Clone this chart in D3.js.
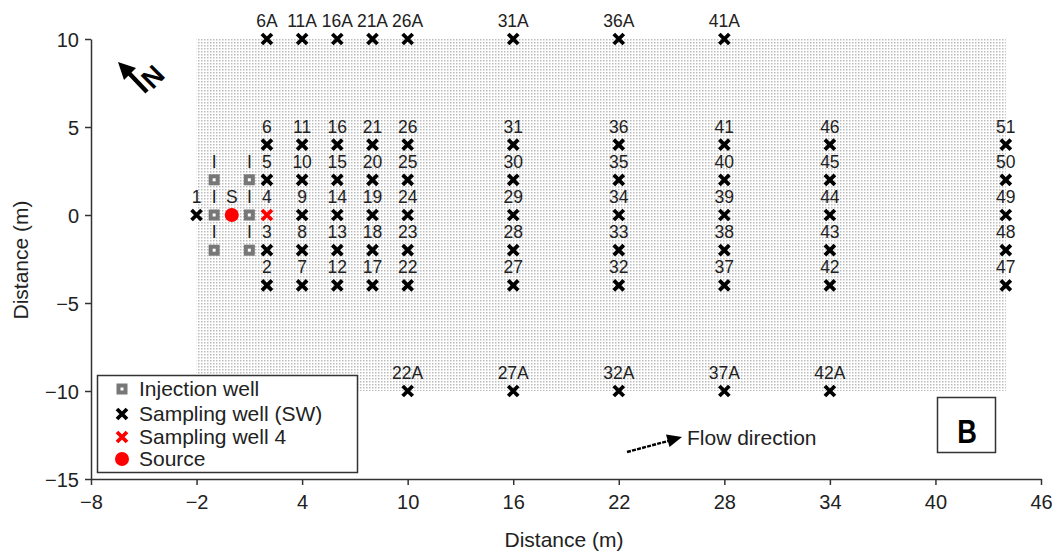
<!DOCTYPE html>
<html lang="en">
<head>
<meta charset="utf-8">
<title>Well layout</title>
<script src="https://cdn.jsdelivr.net/npm/d3@7"></script>
<style>
  body { margin: 0; background: #fff; }
  text { font-family: "Liberation Sans", Arial, sans-serif; fill: #222; }
</style>
</head>
<body>
<script>
// well layout data
var xTicks = [-8, -2, 4, 10, 16, 22, 28, 34, 40, 46];
var yTicks = [-15, -10, -5, 0, 5, 10];

var swColumns = [2, 4, 6, 8, 10, 16, 22, 28, 34, 44];
var swRows = [-4, -2, 0, 2, 4];
var swLabels = [
  ["2", "3", "4", "5", "6"],
  ["7", "8", "9", "10", "11"],
  ["12", "13", "14", "15", "16"],
  ["17", "18", "19", "20", "21"],
  ["22", "23", "24", "25", "26"],
  ["27", "28", "29", "30", "31"],
  ["32", "33", "34", "35", "36"],
  ["37", "38", "39", "40", "41"],
  ["42", "43", "44", "45", "46"],
  ["47", "48", "49", "50", "51"]
];
var topRowX = [2, 4, 6, 8, 10, 16, 22, 28];
var topRowLabels = ["6A", "11A", "16A", "21A", "26A", "31A", "36A", "41A"];
var bottomRowX = [10, 16, 22, 28, 34];
var bottomRowLabels = ["22A", "27A", "32A", "37A", "42A"];
var well1 = { label: "1", x: -2, y: 0 };
var well4 = { x: 2, y: 0 };

var injX = [-1, 1];
var injY = [-2, 0, 2];
var source = { label: "S", x: 0, y: 0 };

var area = { x0: -2, x1: 44, y0: -10, y1: 10 };

var legendItems = ["Injection well", "Sampling well (SW)", "Sampling well 4", "Source"];

var w = 1058, h = 556;

var x = d3.scaleLinear().domain([-8, 46]).range([91, 1041]);
var y = d3.scaleLinear().domain([-15, 10]).range([479, 39]);

var svg = d3.select("body").append("svg")
  .attr("width", w)
  .attr("height", h);

// dotted fill pattern
var defs = svg.append("defs");
var pat = defs.append("pattern")
  .attr("id", "dots")
  .attr("patternUnits", "userSpaceOnUse")
  .attr("width", 3)
  .attr("height", 3);
pat.append("rect").attr("width", 1.5).attr("height", 1.5).attr("fill", "#bbb");

svg.append("rect")
  .attr("x", x(area.x0))
  .attr("y", y(area.y1))
  .attr("width", x(area.x1) - x(area.x0))
  .attr("height", y(area.y0) - y(area.y1))
  .attr("fill", "url(#dots)");

// axes
var xAxis = d3.axisBottom(x).tickValues(xTicks).tickSize(6).tickSizeOuter(0);
var yAxis = d3.axisLeft(y).tickValues(yTicks).tickSize(6).tickSizeOuter(0);

var gx = svg.append("g").attr("transform", "translate(0," + y(-15) + ")").call(xAxis);
var gy = svg.append("g").attr("transform", "translate(" + x(-8) + ",0)").call(yAxis);

[gx, gy].forEach(function(g) {
  g.selectAll("path, line").attr("stroke", "#333").attr("stroke-width", 1.5);
  g.selectAll("text")
    .attr("font-size", "20px")
    .attr("font-family", "'Liberation Sans', Arial, sans-serif")
    .attr("fill", "#222");
});
gx.selectAll("text").attr("dy", "1.05em");
gy.selectAll("text").attr("dx", "-3px").attr("dy", "0.36em");

svg.append("text")
  .attr("x", 564)
  .attr("y", 547)
  .attr("text-anchor", "middle")
  .attr("font-size", "21px")
  .text("Distance (m)");

svg.append("text")
  .attr("transform", "translate(28,260) rotate(-90)")
  .attr("text-anchor", "middle")
  .attr("font-size", "21px")
  .text("Distance (m)");

// marker helpers
function cross(g, cx, cy, color) {
  var s = 5;
  g.append("path")
    .attr("d", "M" + (cx - s) + "," + (cy - s) + "L" + (cx + s) + "," + (cy + s) +
               "M" + (cx - s) + "," + (cy + s) + "L" + (cx + s) + "," + (cy - s))
    .attr("stroke", color)
    .attr("stroke-width", 3.8)
    .attr("stroke-linecap", "butt");
}
function label(g, cx, cy, t) {
  g.append("text")
    .attr("x", cx)
    .attr("y", cy - 12)
    .attr("text-anchor", "middle")
    .attr("font-size", "17.5px")
    .text(t);
}
function injSquare(g, cx, cy) {
  g.append("rect")
    .attr("x", cx - 5.5).attr("y", cy - 5.5)
    .attr("width", 11).attr("height", 11)
    .attr("fill", "#777");
  g.append("rect")
    .attr("x", cx - 1.5).attr("y", cy - 1.5)
    .attr("width", 3).attr("height", 3)
    .attr("fill", "#fff");
}

var marks = svg.append("g");

// sampling wells grid
swColumns.forEach(function(cx, i) {
  swRows.forEach(function(cy, j) {
    var red = (cx === well4.x && cy === well4.y);
    cross(marks, x(cx), y(cy), red ? "#ff0000" : "#000");
    label(marks, x(cx), y(cy), swLabels[i][j]);
  });
});

topRowX.forEach(function(cx, i) {
  cross(marks, x(cx), y(10), "#000");
  label(marks, x(cx), y(10), topRowLabels[i]);
});
bottomRowX.forEach(function(cx, i) {
  cross(marks, x(cx), y(-10), "#000");
  label(marks, x(cx), y(-10), bottomRowLabels[i]);
});

cross(marks, x(well1.x), y(well1.y), "#000");
label(marks, x(well1.x), y(well1.y), well1.label);

// injection wells
injX.forEach(function(cx) {
  injY.forEach(function(cy) {
    injSquare(marks, x(cx), y(cy));
    label(marks, x(cx), y(cy), "I");
  });
});

// source
marks.append("circle")
  .attr("cx", x(source.x)).attr("cy", y(source.y))
  .attr("r", 7).attr("fill", "#ff0000");
label(marks, x(source.x), y(source.y), source.label);

// north arrow
svg.append("line")
  .attr("x1", 147).attr("y1", 92)
  .attr("x2", 127).attr("y2", 71)
  .attr("stroke", "#000").attr("stroke-width", 4.5);
svg.append("path")
  .attr("d", "M118,62L136,68L124,80Z")
  .attr("fill", "#000");
svg.append("text")
  .attr("transform", "translate(153,77) rotate(-45)")
  .attr("text-anchor", "middle")
  .attr("dominant-baseline", "central")
  .attr("font-size", "27px")
  .attr("font-weight", "bold")
  .style("fill", "#000")
  .text("N");

// flow direction
svg.append("line")
  .attr("x1", 627).attr("y1", 452)
  .attr("x2", 670).attr("y2", 440.5)
  .attr("stroke", "#000").attr("stroke-width", 2.4)
  .attr("stroke-dasharray", "4,1.2");
svg.append("path")
  .attr("d", "M682,437L666,434.5L669.5,447Z")
  .attr("fill", "#000");
svg.append("text")
  .attr("x", 687).attr("y", 445)
  .attr("font-size", "21px")
  .text("Flow direction");

// panel letter
svg.append("rect")
  .attr("x", 937.5).attr("y", 397.5)
  .attr("width", 58).attr("height", 55)
  .attr("fill", "#fff").attr("stroke", "#333").attr("stroke-width", 1.5);
svg.append("text")
  .attr("transform", "translate(967,443) scale(0.8,1)")
  .attr("text-anchor", "middle")
  .attr("font-size", "34px")
  .attr("font-weight", "bold")
  .style("fill", "#000")
  .text("B");

// legend
var lg = svg.append("g");
lg.append("rect")
  .attr("x", 97.5).attr("y", 375.5)
  .attr("width", 260).attr("height", 97)
  .attr("fill", "#fff").attr("stroke", "#333").attr("stroke-width", 1.5);
var rowY = [389, 414, 437, 459];
injSquare(lg, 122, rowY[0]);
cross(lg, 122, rowY[1], "#000");
cross(lg, 122, rowY[2], "#ff0000");
lg.append("circle").attr("cx", 122).attr("cy", rowY[3]).attr("r", 7).attr("fill", "#ff0000");
legendItems.forEach(function(t, i) {
  lg.append("text")
    .attr("x", 139).attr("y", rowY[i])
    .attr("dy", "0.35em")
    .attr("font-size", "21px")
    .text(t);
});
</script>
</body>
</html>
